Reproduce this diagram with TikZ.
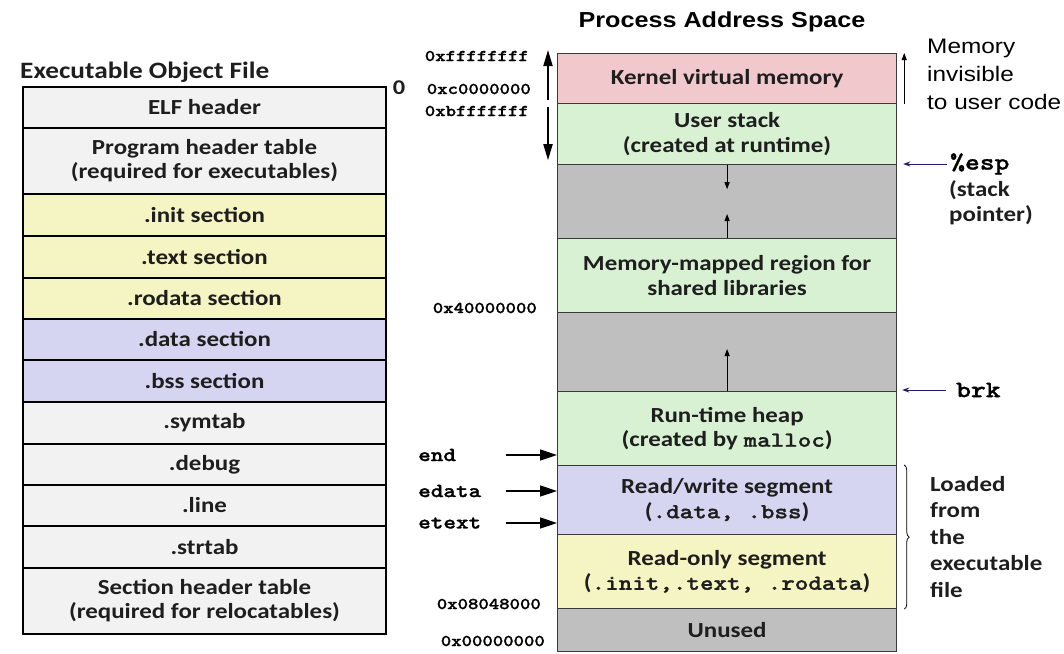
\documentclass[tikz,border=0pt]{standalone}
\usepackage{fontspec}
\usetikzlibrary{positioning,arrows.meta,decorations.pathreplacing,calc}

\newfontfamily\calib{Carlito}[FakeStretch=1.16]
\newfontfamily\arialx{Liberation Sans}[FakeStretch=1.16]
\newfontfamily\monobf{lmmonolt10-bold.otf}[FakeStretch=1.2, FakeBold=1.2]
\newcommand{\segcode}[1]{{\monobf #1}}

\definecolor{txtdark}{HTML}{1E1E1E}
\definecolor{filegray}{HTML}{F2F2F2}
\definecolor{fileyellow}{HTML}{F5F4C3}
\definecolor{fileblue}{HTML}{D5D5F2}
\definecolor{kernpink}{HTML}{F1C8CB}
\definecolor{seggreen}{HTML}{D8F1D3}
\definecolor{gapgray}{HTML}{BFBFBF}
\definecolor{segline}{HTML}{3A3A3A}
\definecolor{ptrnavy}{HTML}{1C1C6E}

\tikzset{
  filesect/.style={rectangle, draw=black, line width=2pt, minimum width=363pt, anchor=north west,
    align=center, text=txtdark, font={\calib\bfseries\fontsize{21.5}{24}\selectfont}},
  memseg/.style={rectangle, draw=segline, line width=1.2pt, minimum width=339pt, anchor=north west,
    align=center, text=txtdark, font={\calib\bfseries\fontsize{21.5}{24.5}\selectfont}},
  hexlbl/.style={anchor=east, inner sep=0pt, font={\monobf\fontsize{16.5}{16.5}\selectfont}},
  symlbl/.style={anchor=west, inner sep=0pt, font={\monobf\fontsize{20}{20}\selectfont}},
  reglbl/.style={anchor=west, inner sep=0pt, font={\monobf\fontsize{23.5}{23.5}\selectfont}},
  notelbl/.style={anchor=west, inner sep=0pt, align=left, text=txtdark, font={\calib\bfseries\fontsize{21.5}{25}\selectfont}},
  bigarrow/.style={line width=1.8pt, -{Triangle[length=16pt,width=9pt]}},
  symarrow/.style={line width=1.6pt, -{Triangle[length=17pt,width=11pt]}},
  growarrow/.style={line width=1pt, -{Triangle[length=7pt,width=5pt]}},
  ptrarrow/.style={line width=0.9pt, draw=ptrnavy, -{Stealth[length=7pt,width=5pt]}},
  segbrace/.style={line width=0.8pt, decorate, decoration={brace, amplitude=5pt}}
}

\begin{document}
\begin{tikzpicture}[x=1pt, y=-1pt]
  \useasboundingbox (0,0) rectangle (1064,653);
  % \draw[help lines, step=50] (0,0) grid (1064,653);

  \node [anchor=west, inner sep=0pt, text=txtdark, font={\calib\bfseries\fontsize{23.5}{23.5}\selectfont}] (filetitle) at (20,72) {Executable Object File};

  \node [filesect, fill=filegray, minimum height=41pt] (elf) at (22,86) {ELF header};
  \node [filesect, fill=filegray, minimum height=66pt] (phdr) at (22,127) {Program header table\\(required for executables)};
  \node [filesect, fill=fileyellow, minimum height=42pt] (init) at (22,193) {.init section};
  \node [filesect, fill=fileyellow, minimum height=42pt] (text) at (22,235) {.text section};
  \node [filesect, fill=fileyellow, minimum height=41pt] (rodata) at (22,277) {.rodata section};
  \node [filesect, fill=fileblue, minimum height=41pt] (data) at (22,318) {.data section};
  \node [filesect, fill=fileblue, minimum height=42pt] (bss) at (22,359) {.bss section};
  \node [filesect, fill=filegray, minimum height=42pt] (symtab) at (22,401) {.symtab};
  \node [filesect, fill=filegray, minimum height=41pt] (debug) at (22,443) {.debug};
  \node [filesect, fill=filegray, minimum height=41pt] (line) at (22,484) {.line};
  \node [filesect, fill=filegray, minimum height=42pt] (strtab) at (22,525) {.strtab};
  \node [filesect, fill=filegray, minimum height=66pt] (shdr) at (22,567) {Section header table\\(required for relocatables)};

  \node [anchor=center, inner sep=0pt, text=txtdark, font={\calib\bfseries\fontsize{21}{21}\selectfont}] (zero) at (399,88) {0};

  \node [inner sep=0pt, text=black, font={\arialx\bfseries\fontsize{21.7}{21.7}\selectfont}] (spacetitle) at (722,22) {Process Address Space};

  \node [memseg, fill=kernpink, minimum height=50pt] (kernel) at (557,53) {Kernel virtual memory};
  \node [memseg, fill=seggreen, minimum height=61pt] (ustack) at (557,103) {User stack\\(created at runtime)};
  \node [memseg, fill=gapgray, minimum height=74pt] (gapup) at (557,164) {};
  \node [memseg, fill=seggreen, minimum height=74pt] (mmap) at (557,238) {Memory-mapped region for\\shared libraries};
  \node [memseg, fill=gapgray, minimum height=79pt] (gaplow) at (557,312) {};
  \node [memseg, fill=seggreen, minimum height=74pt] (heap) at (557,391) {Run-time heap\\(created by \segcode{malloc})};
  \node [memseg, fill=fileblue, minimum height=69pt] (rw) at (557,465) {Read/write segment\\(\segcode{.data, .bss})};
  \node [memseg, fill=fileyellow, minimum height=74pt] (ro) at (557,534) {Read-only segment\\(\segcode{.init,.text, .rodata})};
  \node [memseg, fill=gapgray, minimum height=43pt] (unused) at (557,608) {Unused};

  \node [hexlbl] (hexffff) at (529,56) {0xffffffff};
  \node [hexlbl] (hexc000) at (531,89) {0xc0000000};
  \node [hexlbl] (hexbfff) at (529,111) {0xbfffffff};
  \node [hexlbl] (hex4000) at (537,308) {0x40000000};
  \node [hexlbl] (hex0804) at (541,604) {0x08048000};
  \node [hexlbl] (hex0000) at (545,641) {0x00000000};

  \draw[bigarrow] ([xshift=-9pt,yshift=4pt]kernel.south west) -- ([xshift=-9pt,yshift=3pt]kernel.north west);
  \draw[bigarrow] ([xshift=-9pt,yshift=-4pt]ustack.north west) -- ([xshift=-9pt,yshift=5pt]ustack.south west);

  \draw[growarrow] ([xshift=7pt]kernel.south east) -- ([xshift=7pt]kernel.north east);
  \node [anchor=west, inner sep=0pt, align=left, text=black, font={\arialx\fontsize{21}{28}\selectfont}] (invisible) at (927,74) {Memory\\invisible\\to user code};

  \draw[growarrow] (ustack.south) -- ([yshift=-24pt]ustack.south);
  \draw[growarrow] (mmap.north) -- ([yshift=24pt]mmap.north);
  \draw[growarrow] (heap.north) -- ([yshift=42pt]heap.north);

  \node [reglbl] (esp) at (950,164) {\%esp};
  \node [notelbl] (esplbl) at (949,203) {(stack\\pointer)};
  \draw[ptrarrow, shorten >=6pt] ([xshift=-3pt]esp.west) -- (esp.west -| ustack.east);

  \node [reglbl] (brk) at (956,390) {brk};
  \draw[ptrarrow, shorten >=5pt] ([xshift=-10pt]brk.west) -- (brk.west -| heap.east);

  \node [symlbl] (endlbl) at (418,455) {end};
  \node [symlbl] (edatalbl) at (418,491) {edata};
  \node [symlbl] (etextlbl) at (418,523) {etext};
  \draw[symarrow] ([xshift=88pt]endlbl.west) -- (endlbl.west -| heap.west);
  \draw[symarrow] ([xshift=88pt]edatalbl.west) -- (edatalbl.west -| rw.west);
  \draw[symarrow] ([xshift=88pt]etextlbl.west) -- (etextlbl.west -| rw.west);

  \draw[segbrace] ([xshift=7pt]rw.north east) -- ([xshift=7pt]ro.south east);
  \node [notelbl, font={\calib\bfseries\fontsize{21.5}{26.5}\selectfont}] (loaded) at (930,537) {Loaded\\from\\the\\executable\\file};

\end{tikzpicture}
\end{document}
